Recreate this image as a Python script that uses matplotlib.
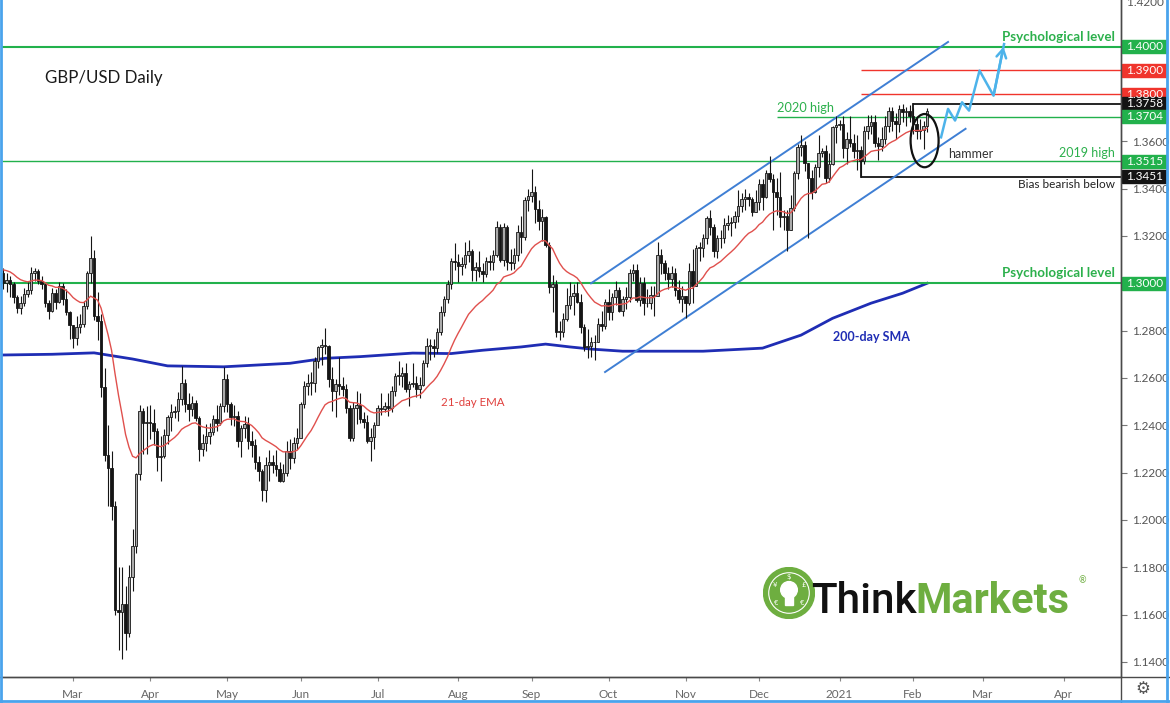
import numpy as np
import pandas as pd
import matplotlib
matplotlib.use("Agg")
import matplotlib.pyplot as plt
from matplotlib.patches import Rectangle, Ellipse, Circle
from matplotlib.lines import Line2D
from matplotlib.transforms import blended_transform_factory

plt.rcParams['font.family'] = ['Lato', 'DejaVu Sans']

# daily GBP/USD candles, business days 2020-02-03 .. 2021-02-05 (open = previous close)
first_day, last_day = "2020-02-03", "2021-02-05"
first_open = 1.3045
closes = [
    # Feb 2020
    1.3000, 1.3015, 1.2995, 1.2940, 1.2895, 1.2915, 1.2955, 1.2970, 1.3045, 1.3050,
    1.3010, 1.2995, 1.2915, 1.2885, 1.2960, 1.2920, 1.2990, 1.2935, 1.2880, 1.2825,
    # Mar
    1.2770, 1.2815, 1.2830, 1.2905, 1.3045, 1.3105, 1.2860, 1.2840, 1.2560, 1.2275, 1.2220,
    1.2060, 1.1620, 1.1610, 1.1645, 1.1520, 1.1760, 1.1890, 1.2195, 1.2460, 1.2410, 1.2415,
    # Apr
    1.2410, 1.2375, 1.2265, 1.2270, 1.2360, 1.2435, 1.2455, 1.2460, 1.2510, 1.2580, 1.2490,
    1.2470, 1.2495, 1.2430, 1.2300, 1.2325, 1.2355, 1.2370, 1.2425, 1.2410, 1.2480, 1.2595,
    # May
    1.2490, 1.2435, 1.2440, 1.2335, 1.2390, 1.2405, 1.2335, 1.2315, 1.2245, 1.2205, 1.2125,
    1.2230, 1.2245, 1.2230, 1.2215, 1.2165, 1.2200, 1.2290, 1.2260, 1.2325, 1.2345,
    # Jun
    1.2490, 1.2565, 1.2580, 1.2580, 1.2670, 1.2730, 1.2740, 1.2735, 1.2595, 1.2545, 1.2575,
    1.2565, 1.2555, 1.2475, 1.2345, 1.2475, 1.2485, 1.2425, 1.2415, 1.2335, 1.2350, 1.2400,
    # Jul
    1.2475, 1.2470, 1.2480, 1.2475, 1.2545, 1.2610, 1.2610, 1.2620, 1.2555, 1.2575, 1.2580, 1.2555,
    1.2570, 1.2665, 1.2735, 1.2735, 1.2725, 1.2795, 1.2880, 1.2935, 1.2995, 1.3095, 1.3090,
    # Aug
    1.3075, 1.3080, 1.3120, 1.3135, 1.3055, 1.3070, 1.3050, 1.3040, 1.3095, 1.3090, 1.3120,
    1.3240, 1.3100, 1.3240, 1.3090, 1.3085, 1.3120, 1.3215, 1.3195, 1.3350, 1.3370,
    # Sep
    1.3385, 1.3315, 1.3265, 1.3280, 1.3160, 1.2985, 1.2995, 1.2795, 1.2795, 1.2850, 1.2910,
    1.2945, 1.2960, 1.2920, 1.2815, 1.2730, 1.2735, 1.2750, 1.2750, 1.2830, 1.2820, 1.2920,
    # Oct
    1.2880, 1.2940, 1.2970, 1.2885, 1.2935, 1.2940, 1.3045, 1.3055, 1.2930, 1.3000, 1.2915,
    1.2915, 1.2950, 1.2945, 1.3120, 1.3085, 1.3045, 1.3020, 1.3045, 1.2970, 1.2935, 1.2945,
    # Nov
    1.2915, 1.3050, 1.2990, 1.3150, 1.3150, 1.3190, 1.3275, 1.3240, 1.3135, 1.3190, 1.3190,
    1.3245, 1.3255, 1.3260, 1.3285, 1.3325, 1.3355, 1.3365, 1.3355, 1.3300, 1.3345,
    # Dec
    1.3420, 1.3365, 1.3465, 1.3440, 1.3385, 1.3365, 1.3280, 1.3285, 1.3225, 1.3320, 1.3465, 1.3575,
    1.3585, 1.3510, 1.3445, 1.3385, 1.3490, 1.3550, 1.3560, 1.3445, 1.3505, 1.3660, 1.3670,
    # Jan 2021
    1.3675, 1.3570, 1.3610, 1.3595, 1.3560, 1.3565, 1.3515, 1.3645, 1.3665, 1.3680, 1.3595,
    1.3580, 1.3610, 1.3665, 1.3730, 1.3685, 1.3675, 1.3735, 1.3725, 1.3730, 1.3705,
    # Feb 2021
    1.3675, 1.3645, 1.3650, 1.3665, 1.3730,
]
highs = [
    1.3065, 1.3045, 1.3030, 1.3005, 1.2950, 1.2945, 1.2980, 1.3005, 1.3070, 1.3065,
    1.3060, 1.3030, 1.3000, 1.2930, 1.2980, 1.2975, 1.3005, 1.3000, 1.2975, 1.2885,
    1.2810, 1.2860, 1.2870, 1.2925, 1.3050, 1.3200, 1.3140, 1.2965, 1.2870, 1.2640, 1.2400,
    1.2290, 1.2080, 1.1800, 1.1800, 1.1720, 1.1810, 1.1960, 1.2200, 1.2485, 1.2475, 1.2480,
    1.2485, 1.2470, 1.2390, 1.2355, 1.2385, 1.2445, 1.2490, 1.2480, 1.2540, 1.2650, 1.2595,
    1.2535, 1.2525, 1.2505, 1.2440, 1.2365, 1.2405, 1.2410, 1.2445, 1.2485, 1.2495, 1.2645,
    1.2615, 1.2500, 1.2485, 1.2460, 1.2400, 1.2440, 1.2435, 1.2375, 1.2340, 1.2270, 1.2215,
    1.2265, 1.2295, 1.2275, 1.2295, 1.2245, 1.2235, 1.2335, 1.2340, 1.2350, 1.2390,
    1.2500, 1.2585, 1.2615, 1.2625, 1.2690, 1.2735, 1.2765, 1.2810, 1.2740, 1.2645, 1.2595,
    1.2690, 1.2605, 1.2575, 1.2485, 1.2500, 1.2545, 1.2535, 1.2455, 1.2445, 1.2390, 1.2415,
    1.2485, 1.2535, 1.2500, 1.2535, 1.2565, 1.2620, 1.2670, 1.2645, 1.2665, 1.2585, 1.2665, 1.2610,
    1.2605, 1.2675, 1.2770, 1.2765, 1.2765, 1.2810, 1.2905, 1.2945, 1.3015, 1.3105, 1.3170,
    1.3125, 1.3110, 1.3175, 1.3185, 1.3145, 1.3090, 1.3135, 1.3085, 1.3110, 1.3120, 1.3140,
    1.3265, 1.3250, 1.3255, 1.3245, 1.3145, 1.3150, 1.3245, 1.3285, 1.3365, 1.3400,
    1.3482, 1.3410, 1.3350, 1.3315, 1.3285, 1.3175, 1.3035, 1.3015, 1.2840, 1.2875, 1.2980,
    1.3005, 1.2995, 1.3005, 1.2955, 1.2830, 1.2805, 1.2775, 1.2780, 1.2855, 1.2885, 1.2935,
    1.2975, 1.2960, 1.3010, 1.2985, 1.2945, 1.2985, 1.3060, 1.3080, 1.3080, 1.3025, 1.3025,
    1.2975, 1.2990, 1.2990, 1.3175, 1.3145, 1.3100, 1.3070, 1.3075, 1.3065, 1.3015, 1.2990,
    1.2945, 1.3085, 1.3145, 1.3160, 1.3175, 1.3210, 1.3285, 1.3310, 1.3250, 1.3205, 1.3225,
    1.3275, 1.3290, 1.3280, 1.3305, 1.3395, 1.3380, 1.3400, 1.3380, 1.3365, 1.3395,
    1.3440, 1.3440, 1.3480, 1.3540, 1.3460, 1.3445, 1.3470, 1.3310, 1.3310, 1.3375, 1.3475, 1.3590,
    1.3625, 1.3600, 1.3510, 1.3480, 1.3505, 1.3625, 1.3570, 1.3585, 1.3550, 1.3665, 1.3705,
    1.3690, 1.3705, 1.3640, 1.3705, 1.3630, 1.3625, 1.3580, 1.3665, 1.3710, 1.3710, 1.3710,
    1.3620, 1.3660, 1.3705, 1.3745, 1.3745, 1.3720, 1.3755, 1.3758, 1.3745, 1.3755,
    1.3740, 1.3700, 1.3695, 1.3685, 1.3740,
]
lows = [
    1.2975, 1.2965, 1.2940, 1.2915, 1.2875, 1.2870, 1.2905, 1.2940, 1.2955, 1.3010,
    1.2995, 1.2975, 1.2900, 1.2850, 1.2880, 1.2890, 1.2915, 1.2910, 1.2865, 1.2765,
    1.2725, 1.2740, 1.2790, 1.2815, 1.2890, 1.3000, 1.2845, 1.2760, 1.2520, 1.2250, 1.2060,
    1.2000, 1.1600, 1.1450, 1.1410, 1.1450, 1.1505, 1.1700, 1.1860, 1.2170, 1.2280, 1.2280,
    1.2340, 1.2315, 1.2205, 1.2165, 1.2260, 1.2320, 1.2375, 1.2430, 1.2420, 1.2485, 1.2455,
    1.2420, 1.2440, 1.2420, 1.2250, 1.2270, 1.2290, 1.2320, 1.2360, 1.2375, 1.2400, 1.2455,
    1.2455, 1.2400, 1.2395, 1.2310, 1.2265, 1.2345, 1.2300, 1.2265, 1.2215, 1.2165, 1.2080,
    1.2075, 1.2165, 1.2200, 1.2185, 1.2160, 1.2160, 1.2185, 1.2215, 1.2240, 1.2300,
    1.2350, 1.2475, 1.2530, 1.2530, 1.2540, 1.2640, 1.2655, 1.2700, 1.2560, 1.2460, 1.2435,
    1.2530, 1.2525, 1.2450, 1.2335, 1.2335, 1.2405, 1.2410, 1.2390, 1.2325, 1.2250, 1.2300,
    1.2400, 1.2445, 1.2455, 1.2440, 1.2455, 1.2525, 1.2570, 1.2560, 1.2540, 1.2480, 1.2560, 1.2520,
    1.2515, 1.2565, 1.2645, 1.2675, 1.2690, 1.2705, 1.2780, 1.2860, 1.2915, 1.2975, 1.3055,
    1.3005, 1.3035, 1.3065, 1.3090, 1.3010, 1.3010, 1.3025, 1.3005, 1.3025, 1.3055, 1.3055,
    1.3110, 1.3090, 1.3075, 1.3055, 1.3055, 1.3060, 1.3095, 1.3130, 1.3185, 1.3305,
    1.3345, 1.3255, 1.3225, 1.3180, 1.3155, 1.2960, 1.2880, 1.2775, 1.2760, 1.2775, 1.2840,
    1.2890, 1.2865, 1.2915, 1.2790, 1.2715, 1.2685, 1.2690, 1.2675, 1.2760, 1.2800, 1.2805,
    1.2845, 1.2845, 1.2910, 1.2880, 1.2860, 1.2890, 1.2920, 1.3010, 1.2920, 1.2905, 1.2865,
    1.2900, 1.2890, 1.2860, 1.2945, 1.3040, 1.3015, 1.2975, 1.2985, 1.2945, 1.2915, 1.2880,
    1.2855, 1.2910, 1.2915, 1.2990, 1.3095, 1.3110, 1.3165, 1.3205, 1.3110, 1.3105, 1.3150,
    1.3170, 1.3225, 1.3200, 1.3235, 1.3260, 1.3300, 1.3310, 1.3325, 1.3285, 1.3300,
    1.3310, 1.3310, 1.3360, 1.3430, 1.3225, 1.3290, 1.3240, 1.3225, 1.3135, 1.3265, 1.3305, 1.3440,
    1.3540, 1.3475, 1.3190, 1.3355, 1.3380, 1.3450, 1.3535, 1.3425, 1.3430, 1.3500, 1.3595,
    1.3650, 1.3530, 1.3505, 1.3575, 1.3530, 1.3480, 1.3451, 1.3505, 1.3610, 1.3630, 1.3575,
    1.3520, 1.3560, 1.3590, 1.3640, 1.3645, 1.3610, 1.3640, 1.3680, 1.3665, 1.3680,
    1.3630, 1.3610, 1.3610, 1.3566, 1.3640,
]

ema_seed = 1.3063  # 21-day EMA just before the first bar

# 200-day SMA
sma_dates = ["2020-02-03", "2020-02-21", "2020-03-10", "2020-03-25", "2020-04-08", "2020-04-30",
             "2020-05-27", "2020-06-10", "2020-06-24", "2020-07-15", "2020-07-30", "2020-08-12",
             "2020-08-27", "2020-09-07", "2020-09-16", "2020-09-24", "2020-10-07", "2020-11-09",
             "2020-12-02", "2020-12-17", "2020-12-30", "2021-01-14", "2021-01-27", "2021-02-05"]
sma_values = [1.2697, 1.2700, 1.2706, 1.2680, 1.2651, 1.2647,
              1.2662, 1.2683, 1.2690, 1.2705, 1.2703, 1.2717,
              1.2731, 1.2743, 1.2731, 1.2722, 1.2713, 1.2713,
              1.2726, 1.2781, 1.2852, 1.2916, 1.2958, 1.3000]

# horizontal levels: value, start date (None = whole chart), colour, width
level_values = [1.4000, 1.3900, 1.3800, 1.3758, 1.3704, 1.3515, 1.3451, 1.3000]
level_starts = [None, "2021-01-11", "2021-01-11", "2021-02-01", "2020-12-08", None, "2021-01-11", None]
level_colors = ['#22b14c', '#f0342c', '#f0342c', '#141414', '#22b14c', '#22b14c', '#141414', '#22b14c']
level_widths = [1.5, 1.0, 1.0, 1.3, 1.0, 1.0, 1.3, 1.5]

channel_upper = [("2020-09-24", 1.3000), ("2021-02-15", 1.4020)]
channel_lower = [("2020-09-30", 1.2625), ("2021-02-22", 1.3653)]

proj_dates = ["2021-02-11", "2021-02-15", "2021-02-17", "2021-02-19", "2021-02-23",
              "2021-02-26", "2021-03-04", "2021-03-09"]
proj_prices = [1.3617, 1.3737, 1.3688, 1.3765, 1.3730, 1.3899, 1.3793, 1.4011]

month_labels = ["Mar", "Apr", "May", "Jun", "Jul", "Aug", "Sep", "Oct", "Nov", "Dec",
                "2021", "Feb", "Mar", "Apr"]

# ---------------------------------------------------------------
dates = pd.bdate_range(first_day, last_day)
all_days = pd.bdate_range(first_day, "2021-05-31")


def pos(d):
    return all_days.get_loc(pd.Timestamp(d))


closes = np.array(closes)
opens = np.r_[first_open, closes[:-1]]
highs = np.maximum.reduce([np.array(highs), opens, closes])
lows = np.minimum.reduce([np.array(lows), opens, closes])
idx = np.arange(len(dates))

ema = pd.Series(np.r_[ema_seed, closes]).ewm(span=21, adjust=False).mean().values[1:]

W, H = 1170, 703
fig = plt.figure(figsize=(W / 100, H / 100), dpi=100)
ax = fig.add_axes([2 / W, (H - 676.5) / H, 1119 / W, 676.5 / H])
XMIN = -0.3
XMAX = XMIN + 1119 / 3.5
ax.set_xlim(XMIN, XMAX)
ax.set_ylim(1.3 - 393.2 / 2366, 1.3 + 283.3 / 2366)

# candles
up = closes >= opens
ax.vlines(idx, lows, highs, color='#151515', lw=0.8, zorder=3)
body = np.maximum(np.abs(closes - opens), 0.00025)
ax.bar(idx[up], body[up], bottom=opens[up], width=0.62, color='#ababab',
       edgecolor='#151515', lw=0.6, zorder=4)
ax.bar(idx[~up], body[~up], bottom=closes[~up], width=0.62, color='#151515',
       edgecolor='#151515', lw=0.6, zorder=4)

# moving averages
ax.plot(idx, ema, color='#e0504d', lw=1.0, zorder=5)
sma_x = [pos(d) for d in sma_dates]
ax.plot(sma_x, sma_values, color='#1f2db4', lw=2.0, zorder=2)

# levels
for v, s, c, w in zip(level_values, level_starts, level_colors, level_widths):
    x0 = XMIN if s is None else pos(s)
    ax.plot([x0, XMAX], [v, v], color=c, lw=w, zorder=2.5, solid_capstyle='butt')
ax.plot([pos("2021-02-01")] * 2, [1.3758, 1.3700], color='#141414', lw=1.3, zorder=2.5)
ax.plot([pos("2021-01-11")] * 2, [1.3451, 1.3540], color='#141414', lw=1.3, zorder=2.5)

# price channel
for line in (channel_upper, channel_lower):
    ax.plot([pos(d) for d, _ in line], [p for _, p in line], color='#3f7fd4', lw=1.4, zorder=2.6)

# projected path
px = [pos(d) for d in proj_dates]
ax.plot(px, proj_prices, color='#4db3ea', lw=1.8, zorder=6)
ax.annotate('', xy=(px[-1], proj_prices[-1]), xytext=(px[-2], proj_prices[-2]),
            arrowprops=dict(arrowstyle='->,head_length=0.6,head_width=0.35', color='#4db3ea', lw=1.8),
            zorder=6)

# hammer ellipse
ax.add_patch(Ellipse((pos("2021-02-04") + 0.3, 1.3603), 8, 0.0225, fill=False,
                     ec='#111', lw=1.6, zorder=7))

# texts
green = '#2cb04c'
ytr = blended_transform_factory(ax.transAxes, ax.transData)
ax.text(0.038, 0.885, "GBP/USD Daily", transform=ax.transAxes, fontsize=12.2,
        color='#1a1a1a', va='center', ha='left')
rx = (1115 - 2) / 1119
ax.text(rx, 1.4040, "Psychological level", transform=ytr,
        color=green, fontsize=9.6, fontweight='bold', ha='right', va='center')
ax.text(rx, 1.30435, "Psychological level", transform=ytr,
        color=green, fontsize=9.6, fontweight='bold', ha='right', va='center')
ax.text(rx, 1.3550, "2019 high", transform=ytr, color=green, fontsize=9.0, ha='right', va='center')
ax.text(rx, 1.3418, "Bias bearish below", transform=ytr, color='#222', fontsize=8.5,
        ha='right', va='center')
ax.text(pos("2020-12-08"), 1.3742, "2020 high", color=green, fontsize=9.2, ha='left', va='center')
ax.text(pos("2021-02-15"), 1.3545, "hammer", color='#333', fontsize=9.0, ha='left', va='center')
ax.text(pos("2020-07-27"), 1.2498, "21-day EMA", color='#e0403d', fontsize=8.3, ha='left', va='center')
ax.text(pos("2020-12-30"), 1.2773, "200-day SMA", color='#1f2db4', fontsize=9.0, fontweight='bold',
        ha='left', va='center')

# axes styling
for s in ('top', 'left'):
    ax.spines[s].set_visible(False)
for s in ('right', 'bottom'):
    ax.spines[s].set_color('#4a4a4a')
    ax.spines[s].set_linewidth(1.0)
ax.yaxis.tick_right()
yt = np.round(np.arange(1.14, 1.4101, 0.02), 2)
covered = {1.30, 1.38, 1.40}
ax.set_yticks(yt)
ax.set_yticklabels(["" if v in covered else f"{v:.4f}" for v in yt])
ax.tick_params(axis='y', direction='out', length=4, width=0.8, colors='#777',
               labelcolor='#555', labelsize=8.5, pad=4)
ax.text(1.0, 1.4212, "  1.4200", transform=ytr, color='#555', fontsize=8.5,
        va='top', ha='left', clip_on=False)

month_pos = []
for m in pd.period_range("2020-03", "2021-04", freq='M'):
    month_pos.append(int(np.argmax(all_days.to_period('M') == m)))
ax.set_xticks(month_pos)
ax.set_xticklabels(month_labels)
ax.tick_params(axis='x', direction='out', length=3, width=0.8, colors='#888',
               labelcolor='#666', labelsize=8.5, pad=6)

# price boxes on the axis
tr = blended_transform_factory(fig.transFigure, ax.transData)
box_h = 13 / 2366
for v, c in zip(level_values, level_colors):
    ax.add_patch(Rectangle((1122 / W, v - box_h / 2), 45 / W, box_h, transform=tr,
                           color=c, clip_on=False, zorder=10))
    ax.text(1144.5 / W, v, f"{v:.4f}", transform=tr, color='white', fontsize=8.5,
            ha='center', va='center', zorder=11, clip_on=False)

# frame lines
fig.add_artist(Line2D([1121 / W, 1121 / W], [0, 1], color='#4a4a4a', lw=1.0))
fig.add_artist(Line2D([0, 1], [(H - 676.5) / H] * 2, color='#4a4a4a', lw=1.0))
border = '#4aa3ec'
fig.add_artist(Line2D([1 / W, 1 / W], [0, 1], color=border, lw=2))
fig.add_artist(Line2D([1167 / W, 1167 / W], [0, 1], color=border, lw=2))
fig.add_artist(Line2D([0, 1], [2 / H, 2 / H], color=border, lw=2))
fig.text(1143 / W, 1 - 689 / H, "\u2699", fontsize=12, color='#555', ha='center', va='center',
         family='DejaVu Sans')

# ThinkMarkets logo
lg = fig.add_axes([763 / W, (H - 619) / H, 52 / W, 52 / H])
lg.set_xlim(-1, 1)
lg.set_ylim(-1, 1)
lg.axis('off')
lg.add_patch(Circle((0, 0), 0.98, color='#6eae40'))
lg.add_patch(Circle((0, 0), 0.78, fill=False, ec='white', lw=0.8))
lg.add_patch(Circle((0, 0.12), 0.32, color='white'))
lg.add_patch(Rectangle((-0.15, -0.45), 0.3, 0.32, color='white'))
for sym, (sx, sy) in zip(["$", "\u00a5", "\u00a3", "\u20ac", "\u20ac"],
                         [(0, 0.6), (-0.55, 0.3), (0.55, 0.3), (-0.5, -0.4), (0.5, -0.4)]):
    lg.text(sx, sy, sym, color='white', fontsize=5, ha='center', va='center', family='DejaVu Sans')

fig.text(811 / W, 1 - 613 / H, "Think", fontsize=30.5, color='#111', ha='left', va='baseline',
         family='Roboto', fontweight='medium')
fig.text(915 / W, 1 - 613 / H, "Markets", fontsize=30, color='#6eae40', fontweight='bold',
         ha='left', va='baseline', family='Roboto')
fig.text(1082 / W, 1 - 581 / H, "\u00ae", fontsize=6.5, color='#6eae40', ha='center', va='center')

fig.savefig("out.png", dpi=100)
